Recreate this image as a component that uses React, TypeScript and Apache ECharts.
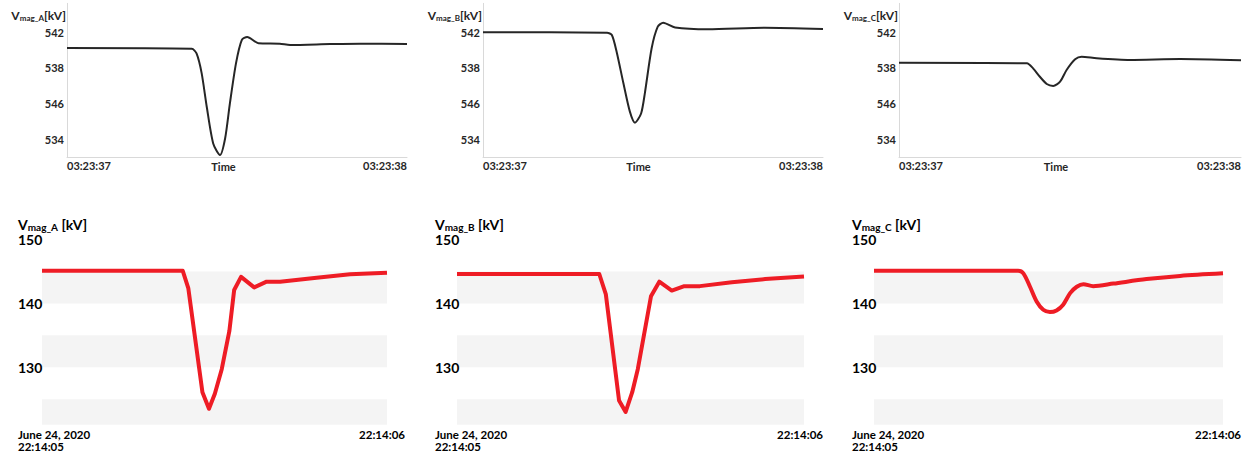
import React, { useEffect, useRef } from "react";
import * as echarts from "echarts";

// ---------- DATA ----------
// Top row (simulation), time in ms after 03:23:37
const topTimesA = [0, 367, 381, 396, 411, 430, 450, 465, 479, 497, 514, 530, 563, 626, 656, 774, 862, 1000];
const topValuesA = [540.2, 540.12, 539.6, 537.4, 533.65, 529.55, 528.25, 530.1, 534.0, 538.5, 541.1, 541.45, 540.75, 540.7, 540.55, 540.65, 540.7, 540.65];

const topTimesB = [0, 365, 379, 393, 413, 432, 447, 465, 476, 496, 514, 530, 565, 662, 829, 1000];
const topValuesB = [541.97, 541.92, 541.66, 539.8, 536.27, 533.1, 531.87, 532.9, 535.15, 540.18, 542.6, 543.04, 542.5, 542.3, 542.48, 542.33];

const topTimesC = [0, 374, 392, 412, 432, 451, 471, 490, 515, 534, 578, 675, 822, 1000];
const topValuesC = [538.57, 538.5, 537.94, 537.0, 536.19, 535.97, 536.45, 537.75, 538.95, 539.24, 539.06, 538.87, 538.98, 538.84];

// Bottom row (measured), time in ms after 22:14:05
const bottomTimesA = [0, 408, 424, 465, 484, 501, 521, 543, 557, 577, 615, 651, 690, 796, 893, 1000];
const bottomValuesA = [145.1, 145.1, 142.4, 126.1, 123.5, 125.85, 129.7, 135.65, 142.1, 144.15, 142.5, 143.4, 143.4, 144.0, 144.55, 144.8];

const bottomTimesB = [0, 410, 429, 467, 486, 505, 521, 559, 583, 619, 655, 700, 792, 888, 1000];
const bottomValuesB = [144.6, 144.6, 141.4, 124.8, 123.0, 126.1, 129.7, 141.1, 143.4, 142.0, 142.7, 142.7, 143.3, 143.8, 144.2];

const bottomTimesC = [0, 413, 428, 447, 466, 485, 504, 523, 542, 562, 581, 600, 628, 686, 781, 877, 1000];
const bottomValuesC = [145.1, 145.1, 144.7, 142.6, 140.3, 139.0, 138.65, 138.9, 139.8, 141.6, 142.6, 143.0, 142.7, 143.1, 143.8, 144.3, 144.7];

const phaseNames = ["A", "B", "C"];
const topYTickValues = [530, 534, 538, 542];
const topYTickLabels = ["534", "546", "538", "542"];
const topXLabels = ["03:23:37", "03:23:38"];
const topXName = "Time";
const bottomYTickValues = [130, 140, 150];
const bottomXLabels = ["June 24, 2020\n22:14:05", "22:14:06"];
const bandRanges = [[121, 125], [130, 135], [140, 145]];

// ---------- LAYOUT ----------
const FONT = "Lato";
const topPlots = [[67, 407], [483, 823], [899, 1241]];
const topTimeX = [223.5, 638.5, 1056];
const bottomPanels = [
  { labelLeft: 18, plot0: 42, plot1: 387, labelRight: 405 },
  { labelLeft: 435, plot0: 457, plot1: 804, labelRight: 823 },
  { labelLeft: 852, plot0: 874, plot1: 1223, labelRight: 1241 },
];
const TOP_MIN = 528, TOP_MAX = 545.2, TOP_PX = 8.95, TOP_Y542 = 32;
const BOT_MIN = 121, BOT_MAX = 150, BOT_TOP = 239.5, BOT_BOTTOM = 425;

function buildOption() {
  const topSeries = [
    [topTimesA, topValuesA],
    [topTimesB, topValuesB],
    [topTimesC, topValuesC],
  ];
  const bottomSeries = [
    [bottomTimesA, bottomValuesA],
    [bottomTimesB, bottomValuesB],
    [bottomTimesC, bottomValuesC],
  ];
  const grid: any[] = [];
  const xAxis: any[] = [];
  const yAxis: any[] = [];
  const series: any[] = [];
  const graphic: any[] = [];
  const gridTop = TOP_Y542 - (TOP_MAX - 542) * TOP_PX;
  const gridH = (TOP_MAX - TOP_MIN) * TOP_PX;

  topPlots.forEach(([p0, p1], i) => {
    grid.push({ left: p0, width: p1 - p0, top: gridTop, height: gridH });
    xAxis.push({
      gridIndex: i, type: "value", min: 0, max: 1000,
      axisLine: { show: true, onZero: false, lineStyle: { color: "#d9d9d9", width: 1 } },
      axisTick: { show: false }, splitLine: { show: false },
      axisLabel: {
        customValues: [0, 1000],
        formatter: (v: number) => (v < 500 ? topXLabels[0] : topXLabels[1]),
        alignMinLabel: "left", alignMaxLabel: "right",
        margin: 3, fontFamily: FONT, fontWeight: "bold", fontSize: 11, color: "#262626",
      },
    });
    yAxis.push({
      gridIndex: i, type: "value", min: TOP_MIN, max: TOP_MAX,
      axisLine: { show: true, onZero: false, lineStyle: { color: "#d9d9d9", width: 1 } },
      axisTick: { show: false }, splitLine: { show: false },
      axisLabel: {
        customValues: topYTickValues,
        formatter: (v: number) => {
          const k = topYTickValues.findIndex((t) => Math.abs(t - v) < 0.01);
          return k >= 0 ? topYTickLabels[k] : "";
        },
        margin: 3, fontFamily: FONT, fontWeight: "bold", fontSize: 11, color: "#262626",
      },
    });
    const [ts, vs] = topSeries[i];
    series.push({
      type: "line", xAxisIndex: i, yAxisIndex: i,
      data: ts.map((t, j) => [t, vs[j]]),
      showSymbol: false, smooth: 0.25,
      lineStyle: { color: "#262626", width: 2 },
    });
    graphic.push({
      type: "text", x: p0 - 1, y: 15,
      style: {
        text: `{v|V}{s|mag_${phaseNames[i]}}{v|[kV]}`,
        align: "right", verticalAlign: "middle",
        rich: {
          v: { fontFamily: FONT, fontWeight: "bold", fontSize: 12, lineHeight: 14, fill: "#262626" },
          s: { fontFamily: FONT, fontWeight: "bold", fontSize: 8, lineHeight: 8, verticalAlign: "bottom", fill: "#262626" },
        },
      },
    });
    graphic.push({
      type: "text", x: topTimeX[i], y: 166.7,
      style: {
        text: topXName, align: "center", verticalAlign: "middle",
        fontFamily: FONT, fontWeight: "bold", fontSize: 11, fill: "#262626",
      },
    });
  });

  bottomPanels.forEach((p, k) => {
    const i = k + 3;
    const span = p.plot1 - p.plot0;
    const xmin = -((p.plot0 - p.labelLeft) / span) * 1000;
    const xmax = 1000 + ((p.labelRight - p.plot1) / span) * 1000;
    grid.push({ left: p.labelLeft, width: p.labelRight - p.labelLeft, top: BOT_TOP, height: BOT_BOTTOM - BOT_TOP });
    xAxis.push({
      gridIndex: i, type: "value", min: xmin, max: xmax,
      axisLine: { show: false }, axisTick: { show: false }, splitLine: { show: false },
      axisLabel: {
        customValues: [xmin, xmax],
        formatter: (v: number) => (v < 500 ? bottomXLabels[0] : bottomXLabels[1]),
        alignMinLabel: "left", alignMaxLabel: "right", verticalAlign: "top",
        margin: 4, lineHeight: 11.5,
        fontFamily: FONT, fontWeight: "bold", fontSize: 11.5, color: "#000",
      },
    });
    yAxis.push({
      gridIndex: i, type: "value", min: BOT_MIN, max: BOT_MAX, z: 10,
      axisLine: { show: false }, axisTick: { show: false }, splitLine: { show: false },
      axisLabel: {
        customValues: bottomYTickValues, inside: true, align: "left", margin: 0,
        lineHeight: 14,
        fontFamily: FONT, fontWeight: "bold", fontSize: 14, color: "#000",
      },
    });
    const [ts, vs] = bottomSeries[k];
    series.push({
      type: "line", xAxisIndex: i, yAxisIndex: i,
      data: ts.map((t, j) => [t, vs[j]]),
      showSymbol: false, smooth: k === 2 ? 0.3 : false,
      lineStyle: { color: "#ee1c25", width: 4, join: "round" },
      markArea: {
        silent: true,
        itemStyle: { color: "#f4f4f4" },
        data: bandRanges.map(([a, b]) => [
          { xAxis: 0, yAxis: a },
          { xAxis: 1000, yAxis: b },
        ]),
      },
    });
    graphic.push({
      type: "text", x: p.labelLeft, y: 224.5,
      style: {
        text: `{v|V}{s|mag_${phaseNames[k]}}{v| [kV]}`,
        align: "left", verticalAlign: "middle",
        rich: {
          v: { fontFamily: FONT, fontWeight: "bold", fontSize: 14, lineHeight: 14, fill: "#000" },
          s: { fontFamily: FONT, fontWeight: "bold", fontSize: 10, lineHeight: 5, verticalAlign: "bottom", fill: "#000" },
        },
      },
    });
  });

  return {
    animation: false,
    backgroundColor: "#ffffff",
    grid, xAxis, yAxis, series, graphic,
  };
}

export default function App() {
  const ref = useRef<HTMLDivElement>(null);
  useEffect(() => {
    if (!ref.current) return;
    const chart = echarts.init(ref.current, null, { renderer: "svg" });
    chart.setOption(buildOption() as any);
    return () => chart.dispose();
  }, []);
  return (
    <div
      ref={ref}
      style={{ position: "fixed", left: 0, top: 0, width: 1249, height: 452, background: "#fff" }}
    />
  );
}
